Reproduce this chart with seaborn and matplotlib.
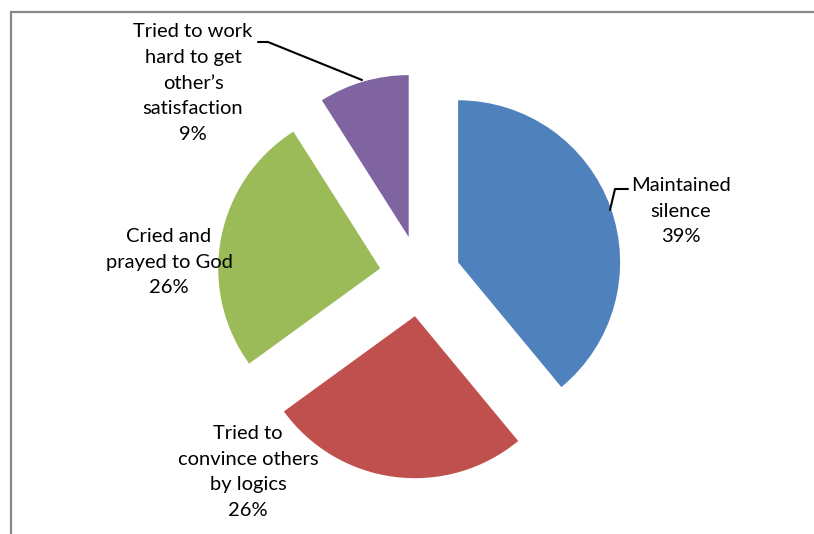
import matplotlib
matplotlib.use("Agg")
import matplotlib.pyplot as plt
import matplotlib.patches as mpatches
import seaborn as sns

# Data
categories = ["Maintained\nsilence", "Tried to\nconvince others\nby logics",
              "Cried and\nprayed to God", "Tried to work\nhard to get\nother\u2019s\nsatisfaction"]
shares = [39, 26, 26, 9]
colors = ["#4F81BD", "#C0504D", "#9BBB59", "#8064A2"]

sns.set_theme(style="white")
plt.rcParams['font.family'] = ['Lato', 'DejaVu Sans']

W, H = 814, 534
CX, CY, R = 420, 276, 162  # pie centre and radius in pixels


def px(x, y):
    # pixel position -> data coords (radius = 1)
    return (x - CX) / R, (CY - y) / R


fig = plt.figure(figsize=(W / 100, H / 100), dpi=100)
ax = fig.add_axes([0, 0, 1, 1])

ax.pie(shares, colors=colors, startangle=90, counterclock=False,
       explode=[0.25] * len(shares), radius=1,
       wedgeprops=dict(linewidth=0))
ax.set_xlim(-CX / R, (W - CX) / R)
ax.set_ylim((CY - H) / R, CY / R)
ax.set_aspect("equal")
ax.axis("off")

# outer chart frame
fig.patches.append(mpatches.Rectangle((11 / W, -0.1), 1.2, 1.1 - 12 / H,
                                      transform=fig.transFigure, fill=False,
                                      edgecolor="#878787", linewidth=1.6))

# labels
label_pos = [(681, 211), (248, 472), (169, 262), (193, 83)]
for cat, val, (x, y) in zip(categories, shares, label_pos):
    ax.text(*px(x, y), f"{cat}\n{val}%", ha="center", va="center",
            fontsize=14.5, linespacing=1.62, color="black")

# leader lines
lines = [[(610, 210), (615, 189), (628, 189)],
         [(258, 42), (268, 42), (362, 80)]]
for pts in lines:
    xs, ys = zip(*[px(x, y) for x, y in pts])
    ax.plot(xs, ys, color="black", linewidth=1.5)

fig.savefig("out.png", dpi=100)
